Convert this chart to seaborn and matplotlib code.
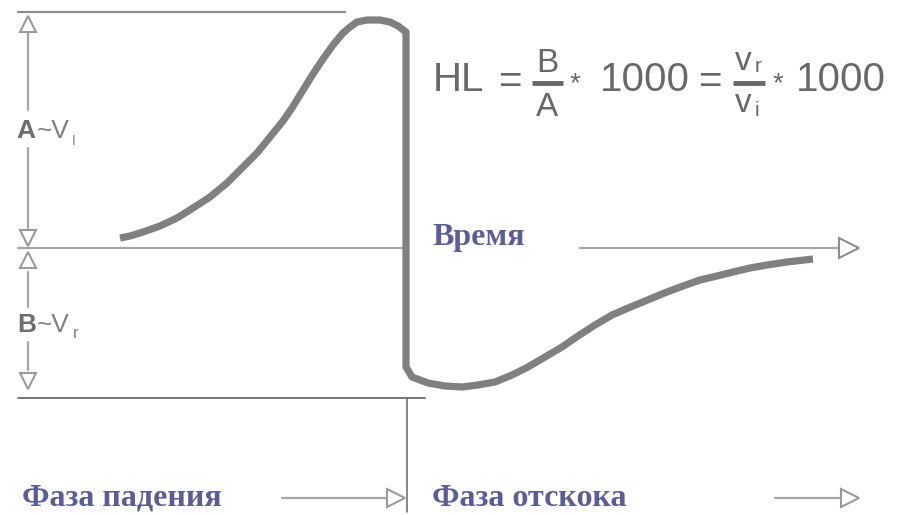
import pandas as pd
import seaborn as sns
import matplotlib.pyplot as plt

# signal curve (pixel coords, y grows downward)
curve_x = [120, 130, 143, 160, 177, 193, 210, 227, 243, 257, 270, 283, 292, 300,
           313, 323, 333, 343, 350, 357, 367, 380, 390, 398, 406,
           406, 412, 428, 445, 462, 478, 495, 512, 528, 545, 562, 578, 595,
           612, 633, 650, 667, 683, 700, 717, 733, 750, 767, 787, 813]
curve_y = [238, 236, 232, 226, 218, 208, 197, 183, 167, 153, 137, 121, 108, 95,
           74, 59, 45, 33, 27, 22, 20, 20, 22, 26, 32,
           367, 377, 383, 386, 387, 385, 382, 375, 367, 357, 347, 336, 325,
           315, 306, 299, 292, 286, 280, 276, 272, 268, 265, 262, 259]

# levels of the three reference lines
top_level = 12
base_level = 248
bottom_level = 398
impact_x = 407

formula_parts = ['HL', '=', '*', '1000', '=', '*', '1000']
axis_label = 'Время'
phase_labels = ['Фаза падения', 'Фаза отскока']

sns.set_theme(style='white')
plt.rcParams['font.family'] = ['Liberation Sans', 'DejaVu Sans']

grey = '#808080'
light = '#a6a6a6'
txt = '#686868'
blue = '#5b5d96'

fig = plt.figure(figsize=(9.08, 5.15), dpi=100)
ax = fig.add_axes([0, 0, 1, 1])
ax.set_xlim(0, 908)
ax.set_ylim(515, 0)
ax.axis('off')

df = pd.DataFrame({'x': curve_x, 'y': curve_y})
sns.lineplot(data=df, x='x', y='y', sort=False, estimator=None,
             color=grey, lw=5.2, ax=ax, zorder=5)
ax.lines[-1].set_solid_capstyle('butt')
ax.lines[-1].set_solid_joinstyle('round')

# reference lines
ax.plot([18, 345], [top_level, top_level], color='#8c8c8c', lw=1.6)
ax.plot([18, 405], [base_level, base_level], color=light, lw=1.6)
ax.plot([580, 842], [base_level, base_level], color=light, lw=1.6)
ax.plot([849], [base_level], marker='>', ms=14, mfc='white', mec='#8c8c8c', mew=1.5)
ax.plot([18, 425], [bottom_level, bottom_level], color='#777777', lw=1.4)
ax.plot([impact_x, impact_x], [bottom_level, 512], color='#666666', lw=1.1)

# left dimension arrows
dim_x = 28
for y0, y1 in [(33, 110), (148, 228), (272, 307), (342, 370)]:
    ax.plot([dim_x, dim_x], [y0, y1], color=light, lw=1.6)
for yc, m in [(24, '^'), (238, 'v'), (260, '^'), (381, 'v')]:
    ax.plot([dim_x], [yc], marker=m, ms=12, mfc='white', mec='#9a9a9a', mew=1.5)

ax.text(16, 131, 'A', fontsize=19, fontweight='bold', color='#6e6e6e', va='center')
ax.text(37, 131, '~V', fontsize=19, color='#808080', va='center')
ax.text(72, 141, 'I', fontsize=10, color='#808080', va='center')
ax.text(17, 325, 'B', fontsize=19, fontweight='bold', color='#6e6e6e', va='center')
ax.text(37, 325, '~V', fontsize=19, color='#808080', va='center')
ax.text(73, 334, 'r', fontsize=12, color='#808080', va='center')

# formula
fs = 29
ax.text(433, 80, formula_parts[0], fontsize=fs, color=txt, va='center')
ax.text(511, 82, formula_parts[1], fontsize=fs, color=txt, va='center', ha='center')
ax.text(547, 63, 'B', fontsize=24, color=txt, va='center', ha='center')
ax.plot([532, 563], [83, 83], color=txt, lw=3.5, solid_capstyle='butt')
ax.text(547, 107, 'A', fontsize=24, color=txt, va='center', ha='center')
ax.text(575, 84, formula_parts[2], fontsize=20, color=txt, va='center', ha='center')
ax.text(600, 80, formula_parts[3], fontsize=fs, color=txt, va='center')
ax.text(711, 82, formula_parts[4], fontsize=fs, color=txt, va='center', ha='center')
ax.text(743, 61, 'v', fontsize=24, color=txt, va='center', ha='center')
ax.text(758, 66, 'r', fontsize=15, color=txt, va='center', ha='center')
ax.plot([733, 765], [83, 83], color=txt, lw=3.5, solid_capstyle='butt')
ax.text(743, 103, 'v', fontsize=24, color=txt, va='center', ha='center')
ax.text(757, 111, 'i', fontsize=15, color=txt, va='center', ha='center')
ax.text(778, 84, formula_parts[5], fontsize=20, color=txt, va='center', ha='center')
ax.text(796, 80, formula_parts[6], fontsize=fs, color=txt, va='center')

# blue labels
serif = ['Liberation Serif', 'DejaVu Serif']
ax.text(432, 238, axis_label, fontsize=23, fontweight='bold', color=blue,
        va='center', family=serif)
ax.text(22, 498, phase_labels[0], fontsize=23, fontweight='bold', color=blue,
        va='center', family=serif)
ax.text(432, 498, phase_labels[1], fontsize=23, fontweight='bold', color=blue,
        va='center', family=serif)

# phase arrows
ax.plot([282, 388], [498, 498], color=light, lw=1.6)
ax.plot([396], [498], marker='>', ms=13, mfc='white', mec='#9a9a9a', mew=1.5)
ax.plot([775, 842], [498, 498], color=light, lw=1.6)
ax.plot([850], [498], marker='>', ms=13, mfc='white', mec='#9a9a9a', mew=1.5)

fig.savefig('out.png', dpi=100)
